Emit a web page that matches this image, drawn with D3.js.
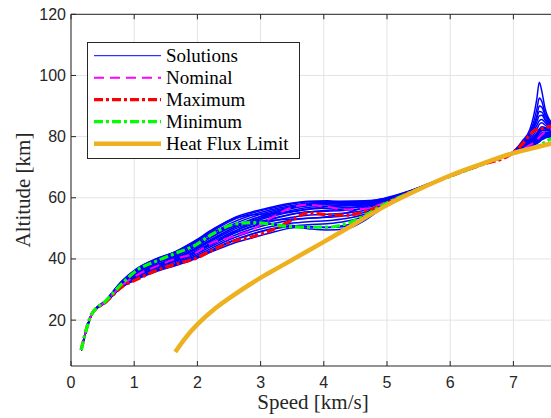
<!DOCTYPE html>
<html>
<head>
<meta charset="utf-8">
<script src="https://cdn.jsdelivr.net/npm/d3@7"></script>
<style>
  body { margin: 0; background: #fff; }
  svg { display: block; }
</style>
</head>
<body>
<svg id="chart" width="551" height="418"></svg>
<script>
// Speed grid shared by all trajectories [km/s]
const speedGrid = [0.16, 0.33, 0.55, 0.8, 1.05, 1.35, 1.65, 1.95, 2.25, 2.55, 2.85, 3.15, 3.45, 3.75, 4.05, 4.35, 4.65, 4.95,
    5.35, 5.85, 6.45, 7.0, 7.15, 7.26, 7.32, 7.37, 7.41, 7.45, 7.5, 7.55, 7.6];

// Blue solution trajectories, altitude [km] at each speedGrid point
const solutions = [
    [10.2, 22, 26.5, 32.6, 36.8, 40.0, 42.3, 45.6, 49.6, 53.2, 55.3, 56.8, 58.1, 58.9, 59.0, 58.8, 58.8, 59.8, 62.2, 66.2, 70.8, 75.2, 78.8, 82.3, 86.8, 92.3, 97.8, 94.8, 89.3, 86.3, 84.8],
    [10.2, 22, 26.4, 32.4, 36.5, 39.6, 42.0, 45.2, 49.2, 52.6, 54.9, 56.5, 57.8, 58.7, 58.8, 58.5, 58.6, 59.6, 62.1, 66.1, 70.7, 75.1, 78.2, 81.4, 84.8, 88.9, 92.6, 91.5, 87.8, 85.6, 84.2],
    [10.2, 22, 26.3, 32.2, 36.2, 39.2, 41.6, 44.7, 48.6, 51.9, 54.3, 56.0, 57.3, 58.3, 58.5, 58.2, 58.4, 59.4, 62.0, 66.1, 70.7, 75.0, 77.6, 80.5, 83.0, 86.0, 88.2, 88.0, 86.0, 84.6, 83.6],
    [10.2, 22, 26.3, 32.0, 35.9, 38.9, 41.2, 44.2, 47.9, 51.2, 53.6, 55.5, 56.9, 57.9, 58.1, 57.9, 58.2, 59.2, 61.9, 66.0, 70.6, 75.0, 77.3, 79.8, 81.6, 83.6, 85.2, 85.6, 84.6, 83.6, 83.0],
    [10.2, 22, 26.5, 32.7, 37.0, 40.1, 42.4, 45.8, 49.8, 53.0, 54.4, 54.8, 55.4, 56.3, 57.1, 57.6, 58.0, 59.2, 61.9, 66.0, 70.6, 74.9, 77.0, 79.2, 80.6, 82.4, 84.0, 84.5, 83.8, 83.0, 82.6],
    [10.2, 22, 26.2, 31.8, 35.6, 38.6, 40.8, 43.8, 47.4, 50.6, 52.9, 54.8, 56.3, 57.4, 57.7, 57.6, 57.9, 59.0, 61.8, 66.0, 70.6, 74.9, 76.8, 78.8, 79.9, 81.2, 82.5, 83.2, 83.0, 82.5, 82.2],
    [10.2, 22, 26.2, 31.7, 35.3, 38.2, 40.4, 43.3, 46.8, 50.0, 52.3, 54.2, 55.7, 56.8, 57.2, 57.3, 57.7, 58.9, 61.8, 66.0, 70.6, 74.9, 76.6, 78.4, 79.4, 80.6, 81.8, 82.6, 82.6, 82.3, 82.0],
    [10.2, 22, 26.1, 31.4, 34.7, 37.5, 39.5, 42.0, 45.0, 48.5, 51.8, 54.6, 56.6, 57.9, 58.4, 58.2, 58.3, 59.3, 62.0, 66.1, 70.7, 75.1, 78.0, 81.0, 83.6, 86.8, 90.0, 89.6, 87.0, 85.2, 84.0],
    [10.2, 22, 26.1, 31.5, 35.0, 37.9, 40.0, 42.8, 46.2, 49.4, 51.8, 53.8, 55.2, 56.2, 56.6, 56.8, 57.3, 58.7, 61.7, 65.9, 70.5, 74.9, 76.4, 78.0, 78.9, 80.0, 81.2, 81.9, 82.1, 81.9, 81.7],
    [10.2, 22, 26.1, 31.4, 34.8, 37.6, 39.6, 42.3, 45.6, 48.8, 51.2, 53.1, 54.5, 55.4, 55.6, 55.9, 56.6, 58.4, 61.6, 65.9, 70.5, 74.8, 76.3, 77.7, 78.5, 79.4, 80.4, 81.2, 81.5, 81.4, 81.3],
    [10.2, 22, 26.0, 31.2, 34.5, 37.2, 39.2, 41.8, 45.0, 48.1, 50.4, 52.2, 53.5, 54.3, 54.6, 55.0, 55.9, 58.0, 61.5, 65.9, 70.5, 74.8, 76.1, 77.4, 78.1, 78.9, 79.8, 80.6, 81.0, 81.0, 81.0],
    [10.2, 22, 26.0, 31.1, 34.2, 36.9, 38.8, 41.3, 44.4, 47.4, 49.7, 51.4, 52.6, 53.3, 53.6, 54.1, 55.3, 57.7, 61.5, 65.9, 70.5, 74.8, 76.0, 77.2, 77.9, 78.6, 79.4, 80.2, 80.6, 80.7, 80.7],
    [10.2, 22, 25.9, 30.9, 33.9, 36.5, 38.4, 40.8, 43.8, 46.7, 48.9, 50.5, 51.6, 52.2, 52.5, 53.2, 54.6, 57.4, 61.4, 65.8, 70.4, 74.7, 75.9, 77.0, 77.6, 78.2, 79.0, 79.8, 80.3, 80.4, 80.4],
    [10.2, 22, 25.9, 30.8, 33.6, 36.2, 38.1, 40.4, 43.2, 46.0, 48.1, 49.6, 50.6, 51.2, 51.5, 52.3, 54.0, 57.2, 61.4, 65.8, 70.4, 74.7, 75.9, 76.9, 77.4, 78.0, 78.7, 79.5, 80.0, 80.2, 80.2],
    [10.2, 22, 25.8, 30.6, 33.4, 35.9, 37.8, 39.9, 42.6, 45.0, 46.8, 48.5, 50.0, 50.6, 50.3, 50.6, 53.2, 57.0, 61.4, 65.8, 70.4, 74.7, 75.8, 76.8, 77.3, 77.8, 78.4, 79.2, 79.7, 80.0, 80.0],
    [10.2, 22, 25.9, 31.0, 34.0, 36.4, 38.2, 40.2, 42.9, 45.8, 48.0, 49.8, 50.5, 49.9, 49.5, 49.8, 52.6, 56.9, 61.4, 65.8, 70.4, 74.7, 75.8, 76.8, 77.2, 77.7, 78.3, 79.0, 79.5, 79.8, 79.9],
    [10.2, 22, 26.4, 32.3, 36.4, 39.8, 42.2, 45.4, 48.8, 50.8, 51.6, 51.4, 51.0, 50.5, 50.3, 51.0, 53.6, 57.3, 61.4, 65.8, 70.4, 74.8, 76.2, 77.6, 78.3, 79.1, 80.0, 80.8, 81.2, 81.2, 81.1],
    [10.2, 22, 26.2, 31.9, 35.7, 38.8, 41.0, 44.0, 47.6, 50.5, 52.0, 52.6, 53.0, 53.3, 53.8, 55.0, 57.0, 58.6, 61.7, 65.9, 70.5, 74.9, 76.7, 78.6, 79.7, 81.0, 82.2, 82.9, 82.8, 82.4, 82.1],
    [10.2, 22, 26.1, 31.6, 35.2, 38.0, 40.2, 43.0, 46.5, 49.9, 52.7, 55.0, 56.7, 57.8, 58.6, 58.9, 59.0, 59.7, 62.1, 66.1, 70.7, 75.1, 77.8, 80.8, 82.6, 84.8, 86.8, 87.0, 85.4, 84.1, 83.3],
    [10.2, 22, 26.0, 31.3, 34.6, 37.4, 39.4, 42.0, 45.3, 48.2, 50.6, 52.8, 54.4, 55.3, 55.9, 56.4, 57.3, 58.8, 61.7, 65.9, 70.6, 74.9, 76.5, 78.2, 79.1, 80.2, 81.5, 82.2, 82.2, 82.0, 81.8]
];

// Nominal, maximum and minimum trajectories on the same speedGrid
const nominalAlt = [10.2, 22, 26.1, 31.2, 34.8, 37.6, 40.0, 41.8, 45.4, 47.2, 49.4, 53.2, 56.5, 57.7, 57.0, 56.2, 56.4, 58.3, 61.7, 65.9, 70.5, 74.8, 76.0, 77.2, 78.0, 79.0, 79.8, 80.6, 81.5, 82.0, 82.5];
const maximumAlt = [10.2, 22, 25.9, 30.8, 33.4, 36.2, 38.3, 40.0, 43.0, 45.7, 47.2, 49.2, 52.2, 55.0, 54.5, 54.3, 55.5, 57.8, 61.6, 65.9, 70.5, 74.8, 77.8, 80.6, 81.8, 82.3, 82.4, 82.6, 82.9, 83.2, 83.5];
const minimumAlt = [10.2, 22, 26.3, 31.8, 36.4, 39.3, 41.8, 44.3, 48.3, 51.2, 51.9, 51.4, 50.6, 50.4, 50.4, 51.5, 54.2, 57.8, 61.6, 65.9, 70.5, 74.7, 75.4, 76.0, 76.4, 76.8, 77.2, 77.6, 78.2, 78.8, 79.4];

// Heat flux limit curve
const heatFluxSpeed = [1.65, 1.8, 2.0, 2.28, 2.54, 2.81, 3.07, 3.31, 4.0, 4.5, 5.0, 5.5, 6.0, 6.5, 7.0, 7.65];
const heatFluxAlt = [9.6, 13.9, 18.6, 23.8, 27.7, 31.4, 34.7, 37.5, 45.6, 51.6, 57.6, 62.7, 67.3, 71.1, 74.6, 78.0];

// Axis ticks
const xTicks = [0, 1, 2, 3, 4, 5, 6, 7];
const yTicks = [20, 40, 60, 80, 100, 120];

const legendItems = [
    { label: "Solutions", color: "#0000ff", width: 1, dash: null },
    { label: "Nominal", color: "#ff00ff", width: 2, dash: "10,6" },
    { label: "Maximum", color: "#ff0000", width: 3.2, dash: "9,3,3,3" },
    { label: "Minimum", color: "#00ff00", width: 3.2, dash: "9,3,3,3" },
    { label: "Heat Flux Limit", color: "#edb120", width: 4.5, dash: null }
];

(function drawChart() {
    const svg = d3.select("#chart");

    const left = 71, top = 14.3, bottom = 366;
    const x = d3.scaleLinear().domain([0, 7.65]).range([left, left + 7.65 * 63.2]);
    const y = d3.scaleLinear().domain([5, 120]).range([bottom, top]);
    const right = x.range()[1];

    const axisColor = "#262626";

    // Grid
    const grid = svg.append("g").attr("stroke", "#e3e3e3").attr("stroke-width", 1);
    xTicks.forEach(t => {
        grid.append("line").attr("x1", x(t)).attr("x2", x(t)).attr("y1", top).attr("y2", bottom);
    });
    yTicks.forEach(t => {
        grid.append("line").attr("x1", left).attr("x2", right).attr("y1", y(t)).attr("y2", y(t));
    });

    // Clip for data
    svg.append("clipPath").attr("id", "plot-clip")
        .append("rect")
        .attr("x", left).attr("y", top)
        .attr("width", right - left).attr("height", bottom - top);

    const plot = svg.append("g").attr("clip-path", "url(#plot-clip)");

    const line = d3.line()
        .x(d => x(d[0]))
        .y(d => y(d[1]))
        .curve(d3.curveMonotoneX);

    // Solutions
    solutions.forEach(alts => {
        plot.append("path")
            .datum(speedGrid.map((s, i) => [s, alts[i]]))
            .attr("d", line)
            .attr("fill", "none")
            .attr("stroke", "#0000ff")
            .attr("stroke-width", 1.5);
    });

    // Nominal / maximum / minimum
    const special = [
        { alts: nominalAlt, item: legendItems[1] },
        { alts: maximumAlt, item: legendItems[2] },
        { alts: minimumAlt, item: legendItems[3] }
    ];
    special.forEach(s => {
        plot.append("path")
            .datum(speedGrid.map((v, i) => [v, s.alts[i]]))
            .attr("d", line)
            .attr("fill", "none")
            .attr("stroke", s.item.color)
            .attr("stroke-width", s.item.width)
            .attr("stroke-dasharray", s.item.dash);
    });

    // Heat flux limit (smooth spline)
    plot.append("path")
        .datum(heatFluxSpeed.map((v, i) => [v, heatFluxAlt[i]]))
        .attr("d", line.curve(d3.curveNatural))
        .attr("fill", "none")
        .attr("stroke", "#edb120")
        .attr("stroke-width", 4.5);

    // Axes box lines
    const axes = svg.append("g").attr("stroke", axisColor).attr("stroke-width", 1).attr("fill", "none");
    axes.append("line").attr("x1", left).attr("x2", left).attr("y1", top).attr("y2", bottom);
    axes.append("line").attr("x1", left).attr("x2", right).attr("y1", bottom).attr("y2", bottom);
    axes.append("line").attr("x1", left).attr("x2", right).attr("y1", top).attr("y2", top);

    // Ticks (inward)
    const tickLen = 5;
    xTicks.forEach(t => {
        axes.append("line").attr("x1", x(t)).attr("x2", x(t)).attr("y1", bottom).attr("y2", bottom - tickLen);
        axes.append("line").attr("x1", x(t)).attr("x2", x(t)).attr("y1", top).attr("y2", top + tickLen);
    });
    yTicks.forEach(t => {
        axes.append("line").attr("x1", left).attr("x2", left + tickLen).attr("y1", y(t)).attr("y2", y(t));
    });

    // Tick labels
    svg.append("g").selectAll("text")
        .data(xTicks)
        .enter().append("text")
        .attr("x", d => x(d))
        .attr("y", 388)
        .attr("text-anchor", "middle")
        .style("font-family", "'Liberation Sans', Arial, sans-serif")
        .style("font-size", "16px")
        .attr("fill", axisColor)
        .text(d => d);

    svg.append("g").selectAll("text")
        .data(yTicks)
        .enter().append("text")
        .attr("x", 66)
        .attr("y", d => y(d) + 5.5)
        .attr("text-anchor", "end")
        .style("font-family", "'Liberation Sans', Arial, sans-serif")
        .style("font-size", "16px")
        .attr("fill", axisColor)
        .text(d => d);

    // Axis labels
    svg.append("text")
        .attr("x", 313)
        .attr("y", 409)
        .attr("text-anchor", "middle")
        .style("font-family", "'Liberation Serif', 'Times New Roman', serif")
        .style("font-size", "21px")
        .attr("fill", axisColor)
        .text("Speed [km/s]");

    svg.append("text")
        .attr("transform", "translate(30,190) rotate(-90)")
        .attr("text-anchor", "middle")
        .style("font-family", "'Liberation Serif', 'Times New Roman', serif")
        .style("font-size", "21px")
        .attr("fill", axisColor)
        .text("Altitude [km]");

    // Legend
    const legend = svg.append("g");
    legend.append("rect")
        .attr("x", 87.5).attr("y", 42.5)
        .attr("width", 212).attr("height", 116)
        .attr("fill", "#fff")
        .attr("stroke", axisColor)
        .attr("stroke-width", 1);

    legendItems.forEach((item, i) => {
        const cy = 55.7 + i * 22;
        legend.append("line")
            .attr("x1", 94).attr("x2", 161)
            .attr("y1", cy).attr("y2", cy)
            .attr("stroke", item.color)
            .attr("stroke-width", item.width)
            .attr("stroke-dasharray", item.dash);
        legend.append("text")
            .attr("x", 166)
            .attr("y", cy + 6)
            .style("font-family", "'Liberation Serif', 'Times New Roman', serif")
            .style("font-size", "19px")
            .attr("fill", "#000")
            .text(item.label);
    });
})();
</script>
</body>
</html>
